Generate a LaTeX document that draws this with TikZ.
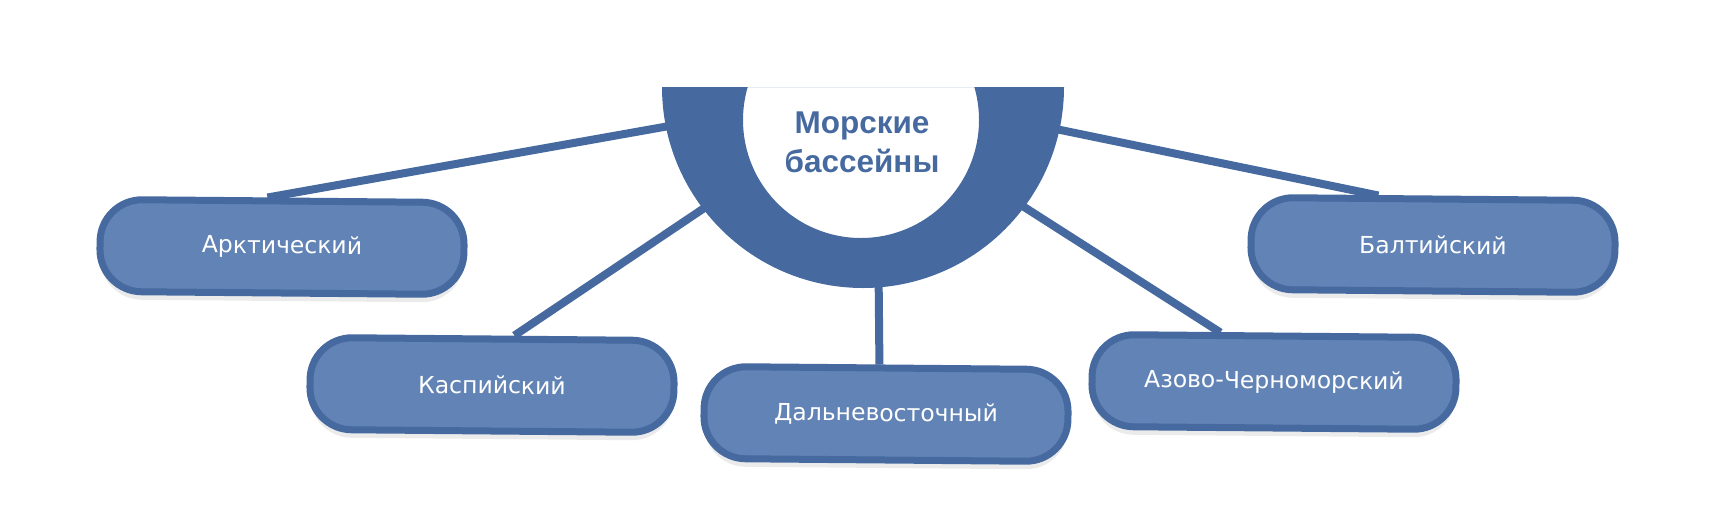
\documentclass[tikz,border=0pt]{standalone}
\usepackage{fontspec}
\setmainfont{DejaVu Sans}
\newfontfamily\hubfont{Liberation Sans}
\usepackage{xcolor}
\usepackage{tikz}
\usetikzlibrary{
  positioning,
  calc,
  shadows,
  backgrounds
}
\definecolor{seablue}{HTML}{466A9F}
\definecolor{boxblue}{HTML}{6283B5}

\begin{document}
\begin{tikzpicture}[x=1pt,y=-1pt,
  sea/.style={draw=seablue,fill=boxblue,line width=7pt,rounded corners=42pt,
    minimum width=364pt,minimum height=92pt,rotate=-0.5,text=white,
    font=\fontsize{23.5}{27}\selectfont,
    drop shadow={shadow xshift=0pt,shadow yshift=-8pt,fill=black,opacity=0.08}},
  link/.style={draw=seablue,line width=8pt}]
  \useasboundingbox (0,0) rectangle (1716,507);

  % 中心の半円
  \coordinate (hub) at (863,87);
  \begin{scope}
    \clip (600,87) rectangle (1120,300);
    \fill[seablue,even odd rule] (662,87) arc[start angle=180,end angle=0,radius=201] -- cycle
      (861,120) circle[radius=118];
  \end{scope}
  \node[font=\hubfont\bfseries\fontsize{31.5}{39}\selectfont,text=seablue,align=center]
    (title) at (862,142) {Морские\\бассейны};

  % 五つの海盆
  \foreach \name/\x/\y/\txt in {arct/282/247/Арктический,casp/492/385/Каспийский,
    far/886/414/Дальневосточный,azov/1274/382/Азово-Черноморский,balt/1433/245/Балтийский}
  \node[sea] (\name) at (\x,\y) {\txt};

  % 中心と結ぶ線
  \begin{pgfonlayer}{background}
    \foreach \name/\ang/\dx in {arct/168.6/-15,casp/142.6/22,far/85.4/-7,azov/36.8/-54,balt/12.3/-55}
    \draw[link] ($(\name.north)+(\dx,0)$) -- ([shift={(hub)}]\ang:195);
  \end{pgfonlayer}
\end{tikzpicture}
\end{document}
